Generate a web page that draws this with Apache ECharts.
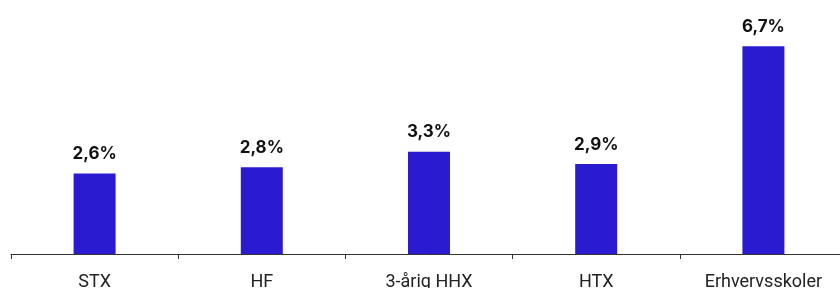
<!DOCTYPE html>
<html>
<head>
<meta charset="utf-8">
<script src="https://cdn.jsdelivr.net/npm/echarts@6/dist/echarts.min.js"></script>
<style>
  html, body { margin: 0; padding: 0; background: #fff; }
  #chart { width: 840px; height: 288px; }
</style>
</head>
<body>
<div id="chart"></div>
<script>
  // uddannelser og andel
  var categories = ['STX', 'HF', '3-årig HHX', 'HTX', 'Erhvervsskoler'];
  var values = [2.6, 2.8, 3.3, 2.9, 6.7];

  var myChart = echarts.init(document.getElementById('chart'));

  var option = {
    animation: false,
    grid: {
      left: 11,
      top: 6,
      right: -7,
      bottom: 34,
      containLabel: false,
      outerBoundsMode: 'none'
    },
    xAxis: {
      type: 'category',
      data: categories,
      axisLine: { show: true, lineStyle: { color: '#333', width: 1 } },
      axisTick: { show: true, length: 5, lineStyle: { color: '#333' } },
      axisLabel: {
        color: '#222',
        fontFamily: 'Roboto',
        fontSize: 18,
        margin: 19
      }
    },
    yAxis: {
      type: 'value',
      min: 0,
      max: 8,
      show: false
    },
    series: [{
      type: 'bar',
      data: values,
      barWidth: 42,
      itemStyle: { color: '#2b1bd0' },
      label: {
        show: true,
        position: 'top',
        distance: 11,
        color: '#111',
        fontFamily: 'Inter',
        fontWeight: 'bold',
        fontSize: 17,
        formatter: function (p) {
          return p.value.toFixed(1).replace('.', ',') + '%';
        }
      }
    }]
  };
  myChart.setOption(option);
</script>
</body>
</html>
